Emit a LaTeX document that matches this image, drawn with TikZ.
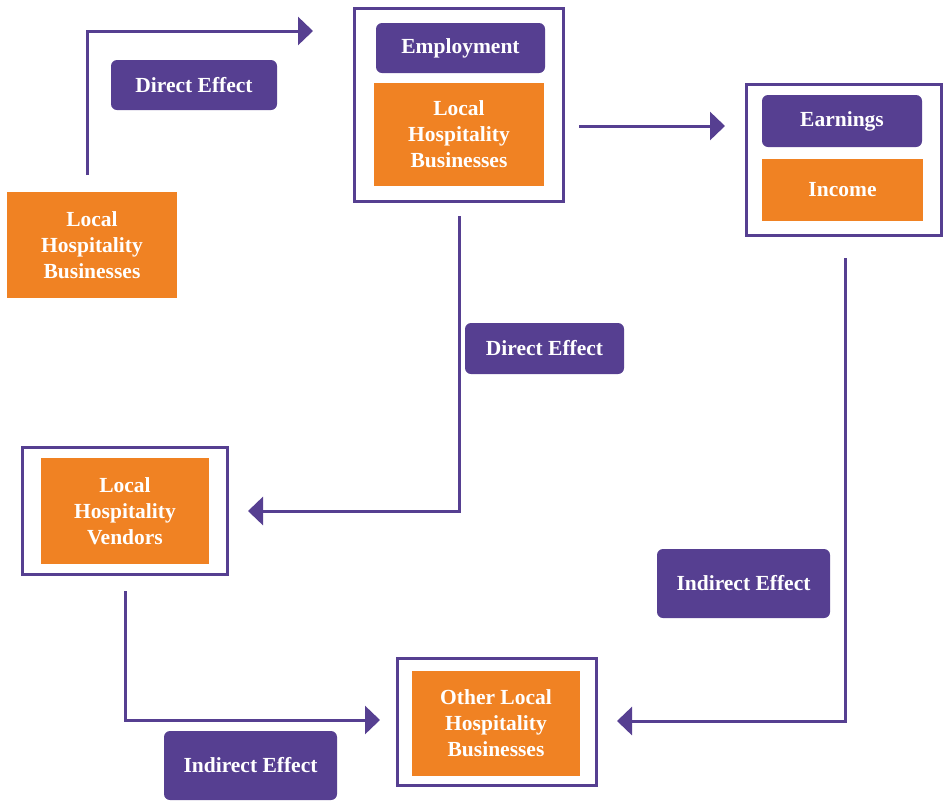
\documentclass[tikz,border=0pt]{standalone}
\usepackage{fontspec}
\setmainfont{Liberation Serif}
\usetikzlibrary{arrows.meta}
\definecolor{hpurple}{RGB}{86,63,145}
\definecolor{horange}{RGB}{240,130,35}
\tikzset{
 orangebox/.style={fill=horange, text=white, align=center, inner sep=2pt},
 effect/.style={fill=hpurple, text=white, rounded corners=6pt, align=center, inner sep=2pt},
 frame/.style={draw=hpurple, line width=3pt, inner sep=0pt},
 flow/.style={draw=hpurple, line width=3pt, -{Triangle[length=15pt,width=28pt]}}
}
\begin{document}
\begin{tikzpicture}[x=1pt, y=-1pt, font=\bfseries\fontsize{21.5}{26}\selectfont]
 \useasboundingbox (0,0) rectangle (947,804);
 % boxes
 \node[orangebox, minimum width=170pt, minimum height=106pt] (lhb) at (92,245) {Local\\Hospitality\\Businesses};
 \node[frame, minimum width=209pt, minimum height=193pt] (topframe) at (459,105) {};
 \node[effect, minimum width=169pt, minimum height=50pt] (emp) at (460.5,48) {Employment};
 \node[orangebox, minimum width=170pt, minimum height=103pt] (lhbtwo) at (459,134.5) {Local\\Hospitality\\Businesses};
 \node[frame, minimum width=195pt, minimum height=151pt] (earnframe) at (844,160) {};
 \node[effect, minimum width=160pt, minimum height=52pt] (earn) at (842,121) {Earnings};
 \node[orangebox, minimum width=161pt, minimum height=62pt] (inc) at (842.5,190) {Income};
 \node[frame, minimum width=205pt, minimum height=127pt] (vframe) at (125,511) {};
 \node[orangebox, minimum width=168pt, minimum height=106pt] (vend) at (125,511) {Local\\Hospitality\\Vendors};
 \node[frame, minimum width=199pt, minimum height=127pt] (oframe) at (497,722) {};
 \node[orangebox, minimum width=168pt, minimum height=105pt] (other) at (496,723.5) {Other Local\\Hospitality\\Businesses};
 % effect labels
 \node[effect, minimum width=166pt, minimum height=50pt] (deone) at (194,85) {Direct Effect};
 \node[effect, minimum width=159pt, minimum height=51pt] (detwo) at (544.5,348.5) {Direct Effect};
 \node[effect, minimum width=173pt, minimum height=69pt] (ieone) at (250.5,765.5) {Indirect Effect};
 \node[effect, minimum width=173pt, minimum height=69pt] (ietwo) at (743.5,583.5) {Indirect Effect};
 % connectors
 \coordinate (s1) at (87,175); \coordinate (e1) at (313,31);
 \coordinate (s2) at (579,126); \coordinate (e2) at (725,126);
 \coordinate (s3) at (459,216); \coordinate (e3) at (248,511);
 \coordinate (s4) at (125,591); \coordinate (e4) at (380,720);
 \coordinate (s5) at (845,258); \coordinate (e5) at (617,721);
 \draw[flow] (s1) |- (e1);
 \draw[flow] (s2) -- (e2);
 \draw[flow] (s3) |- (e3);
 \draw[flow] (s4) |- (e4);
 \draw[flow] (s5) |- (e5);
\end{tikzpicture}
\end{document}
